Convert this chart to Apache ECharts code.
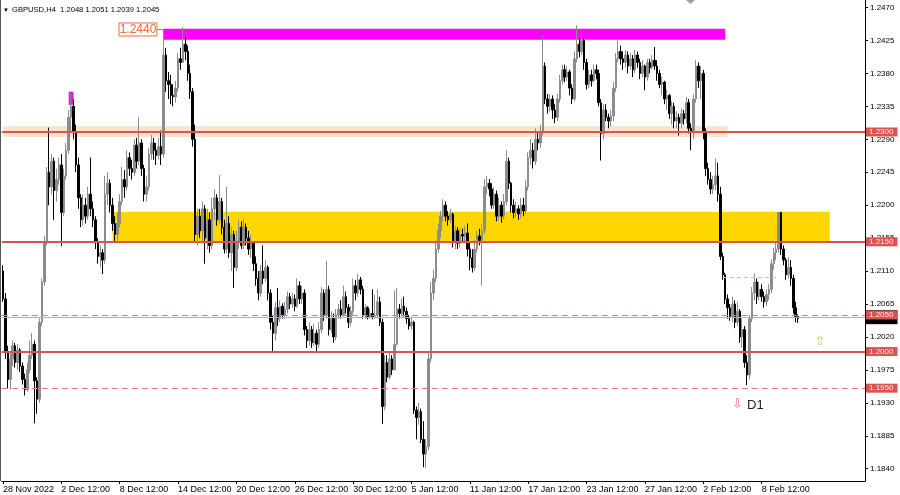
<!DOCTYPE html>
<html><head><meta charset="utf-8">
<script src="https://cdn.jsdelivr.net/npm/echarts@6/dist/echarts.min.js"></script>
<style>html,body{margin:0;padding:0;background:#fff}#c{width:900px;height:495px}</style>
</head><body><div id="c"></div>
<script>
// ---- DATA ----
const firstOpen = 1.2110;
const closes = [
1.2072,1.2000,1.1962,1.1990,1.2008,1.1985,1.2002,1.1980,1.1962,1.1948,
1.1975,1.1995,1.2010,1.1960,1.1935,1.2040,1.2095,1.2150,1.2245,1.2225,
1.2260,1.2220,1.2235,1.2255,1.2190,1.2240,1.2275,1.2320,1.2335,1.2300,
1.2255,1.2210,1.2180,1.2200,1.2185,1.2215,1.2195,1.2180,1.2150,1.2130,
1.2135,1.2125,1.2215,1.2230,1.2200,1.2175,1.2160,1.2175,1.2205,1.2235,
1.2225,1.2265,1.2250,1.2245,1.2282,1.2260,1.2285,1.2250,1.2215,1.2225,
1.2270,1.2285,1.2275,1.2268,1.2280,1.2270,1.2405,1.2370,1.2365,1.2350,
1.2348,1.2360,1.2400,1.2395,1.2420,1.2410,1.2380,1.2355,1.2290,1.2160,
1.2185,1.2165,1.2195,1.2155,1.2180,1.2145,1.2195,1.2210,1.2180,1.2205,
1.2170,1.2140,1.2175,1.2135,1.2160,1.2115,1.2150,1.2170,1.2145,1.2170,
1.2155,1.2140,1.2150,1.2120,1.2100,1.2080,1.2110,1.2100,1.2115,1.2080,
1.2040,1.2025,1.2060,1.2045,1.2062,1.2050,1.2058,1.2075,1.2065,1.2072,
1.2062,1.2090,1.2072,1.2080,1.2030,1.2015,1.2030,1.2012,1.2025,1.2010,
1.2030,1.2080,1.2050,1.2085,1.2030,1.2045,1.2020,1.2050,1.2058,1.2050,
1.2075,1.2060,1.2040,1.2055,1.2090,1.2080,1.2098,1.2085,1.2050,1.2060,
1.2048,1.2052,1.2048,1.2050,1.2068,1.2040,1.1925,1.1985,1.1965,1.1990,
1.1975,1.2010,1.2058,1.2052,1.2062,1.2055,1.2045,1.2035,1.2040,1.1920,
1.1910,1.1918,1.1880,1.1860,1.1870,1.1990,1.2080,1.2100,1.2140,1.2165,
1.2185,1.2200,1.2185,1.2180,1.2188,1.2150,1.2165,1.2148,1.2160,1.2158,
1.2162,1.2140,1.2128,1.2115,1.2140,1.2158,1.2152,1.2165,1.2225,1.2230,
1.2222,1.2200,1.2215,1.2185,1.2200,1.2185,1.2205,1.2260,1.2230,1.2200,
1.2190,1.2195,1.2188,1.2200,1.2192,1.2225,1.2265,1.2275,1.2260,1.2290,
1.2285,1.2300,1.2390,1.2345,1.2335,1.2345,1.2330,1.2320,1.2345,1.2370,
1.2385,1.2375,1.2382,1.2360,1.2345,1.2400,1.2420,1.2410,1.2425,1.2395,
1.2365,1.2378,1.2370,1.2385,1.2380,1.2340,1.2298,1.2330,1.2320,1.2315,
1.2322,1.2360,1.2400,1.2410,1.2400,1.2395,1.2405,1.2390,1.2400,1.2385,
1.2405,1.2395,1.2380,1.2390,1.2375,1.2395,1.2388,1.2398,1.2390,1.2380,
1.2365,1.2368,1.2345,1.2350,1.2325,1.2335,1.2315,1.2320,1.2312,1.2325,
1.2318,1.2340,1.2305,1.2300,1.2345,1.2390,1.2370,1.2380,1.2300,1.2250,
1.2235,1.2222,1.2228,1.2240,1.2215,1.2130,1.2105,1.2072,1.2060,1.2048,
1.2065,1.2040,1.2055,1.2020,1.2030,1.1985,1.1968,1.2045,1.2080,1.2095,
1.2075,1.2085,1.2075,1.2068,1.2078,1.2085,1.2120,1.2135,1.2140,1.2190,
1.2140,1.2125,1.2105,1.2115,1.2100,1.2060,1.2048,1.2045];
const highs = [
1.2118,1.2080,1.2008,1.1998,1.2015,1.2012,1.2010,1.2005,1.1985,1.1970,
1.1985,1.2015,1.2025,1.2015,1.1965,1.2045,1.2100,1.2158,1.2252,1.2306,
1.2270,1.2265,1.2250,1.2265,1.2270,1.2250,1.2285,1.2330,1.2353,1.2345,
1.2310,1.2265,1.2215,1.2215,1.2210,1.2225,1.2265,1.2205,1.2185,1.2155,
1.2145,1.2140,1.2240,1.2245,1.2235,1.2210,1.2185,1.2190,1.2215,1.2252,
1.2248,1.2275,1.2272,1.2262,1.2290,1.2292,1.2320,1.2290,1.2255,1.2240,
1.2278,1.2296,1.2292,1.2285,1.2292,1.2302,1.2440,1.2415,1.2382,1.2378,
1.2365,1.2370,1.2408,1.2415,1.2443,1.2430,1.2418,1.2392,1.2360,1.2310,
1.2195,1.2195,1.2205,1.2200,1.2195,1.2190,1.2210,1.2222,1.2215,1.2241,
1.2210,1.2180,1.2225,1.2185,1.2170,1.2165,1.2165,1.2180,1.2178,1.2182,
1.2175,1.2165,1.2160,1.2150,1.2130,1.2110,1.2118,1.2145,1.2125,1.2118,
1.2085,1.2050,1.2068,1.2087,1.2070,1.2066,1.2068,1.2082,1.2080,1.2080,
1.2078,1.2100,1.2096,1.2090,1.2085,1.2035,1.2040,1.2035,1.2038,1.2030,
1.2040,1.2088,1.2085,1.2124,1.2090,1.2055,1.2052,1.2058,1.2065,1.2070,
1.2090,1.2082,1.2065,1.2062,1.2100,1.2098,1.2106,1.2102,1.2090,1.2065,
1.2062,1.2058,1.2085,1.2078,1.2085,1.2075,1.2045,1.1995,1.1995,1.1998,
1.1995,1.2083,1.2087,1.2065,1.2072,1.2075,1.2060,1.2050,1.2048,1.2042,
1.1925,1.1930,1.1922,1.1905,1.1880,1.2000,1.2095,1.2112,1.2152,1.2175,
1.2192,1.2208,1.2205,1.2192,1.2195,1.2190,1.2172,1.2170,1.2168,1.2168,
1.2172,1.2175,1.2150,1.2140,1.2152,1.2165,1.2168,1.2175,1.2235,1.2240,
1.2236,1.2230,1.2225,1.2220,1.2210,1.2205,1.2215,1.2275,1.2265,1.2232,
1.2208,1.2205,1.2200,1.2210,1.2210,1.2235,1.2272,1.2290,1.2285,1.2305,
1.2300,1.2310,1.2432,1.2395,1.2352,1.2352,1.2350,1.2338,1.2352,1.2378,
1.2392,1.2392,1.2390,1.2385,1.2365,1.2410,1.2446,1.2428,1.2432,1.2428,
1.2400,1.2385,1.2385,1.2392,1.2392,1.2385,1.2345,1.2338,1.2338,1.2325,
1.2330,1.2368,1.2408,1.2425,1.2418,1.2410,1.2412,1.2410,1.2408,1.2405,
1.2412,1.2410,1.2400,1.2398,1.2392,1.2400,1.2400,1.2405,1.2416,1.2398,
1.2385,1.2375,1.2370,1.2358,1.2352,1.2342,1.2340,1.2328,1.2325,1.2332,
1.2330,1.2348,1.2345,1.2312,1.2352,1.2398,1.2395,1.2390,1.2385,1.2305,
1.2258,1.2245,1.2240,1.2264,1.2258,1.2225,1.2135,1.2108,1.2078,1.2065,
1.2075,1.2070,1.2068,1.2058,1.2045,1.2035,1.1995,1.2050,1.2088,1.2107,
1.2100,1.2095,1.2092,1.2082,1.2085,1.2092,1.2126,1.2142,1.2150,1.2191,
1.2191,1.2145,1.2128,1.2129,1.2125,1.2105,1.2068,1.2051];
const lows = [
1.2068,1.1990,1.1950,1.1948,1.1980,1.1978,1.1975,1.1972,1.1955,1.1940,
1.1945,1.1970,1.1990,1.1902,1.1915,1.1930,1.2035,1.2090,1.2145,1.2200,
1.2215,1.2180,1.2205,1.2228,1.2144,1.2185,1.2235,1.2270,1.2300,1.2290,
1.2245,1.2195,1.2170,1.2172,1.2175,1.2180,1.2185,1.2170,1.2140,1.2120,
1.2115,1.2106,1.2120,1.2200,1.2190,1.2165,1.2150,1.2152,1.2170,1.2200,
1.2210,1.2220,1.2240,1.2235,1.2240,1.2250,1.2255,1.2240,1.2205,1.2205,
1.2220,1.2262,1.2262,1.2255,1.2262,1.2255,1.2265,1.2355,1.2345,1.2338,
1.2335,1.2340,1.2355,1.2385,1.2395,1.2398,1.2370,1.2345,1.2280,1.2150,
1.2145,1.2155,1.2150,1.2120,1.2140,1.2135,1.2140,1.2180,1.2172,1.2175,
1.2160,1.2134,1.2135,1.2128,1.2110,1.2087,1.2110,1.2140,1.2140,1.2140,
1.2145,1.2132,1.2128,1.2110,1.2090,1.2070,1.2075,1.2092,1.2095,1.2070,
1.2030,1.2000,1.2015,1.2035,1.2040,1.2045,1.2045,1.2052,1.2058,1.2060,
1.2055,1.2060,1.2065,1.2065,1.2022,1.2005,1.2008,1.2005,1.2008,1.2000,
1.2005,1.2025,1.2042,1.2045,1.2022,1.2025,1.2012,1.2015,1.2045,1.2045,
1.2048,1.2052,1.2032,1.2035,1.2050,1.2070,1.2075,1.2078,1.2045,1.2045,
1.2044,1.2045,1.2044,1.2045,1.2045,1.2035,1.1901,1.1920,1.1958,1.1962,
1.1968,1.1975,1.2008,1.2045,1.2048,1.2048,1.2038,1.2030,1.2030,1.1915,
1.1880,1.1900,1.1875,1.1842,1.1841,1.1865,1.1985,1.2070,1.2095,1.2135,
1.2155,1.2178,1.2178,1.2172,1.2175,1.2142,1.2140,1.2140,1.2142,1.2150,
1.2150,1.2130,1.2111,1.2108,1.2110,1.2135,1.2145,1.2090,1.2160,1.2215,
1.2212,1.2195,1.2195,1.2178,1.2178,1.2176,1.2180,1.2200,1.2222,1.2190,
1.2182,1.2183,1.2180,1.2182,1.2185,1.2188,1.2220,1.2255,1.2250,1.2255,
1.2275,1.2278,1.2295,1.2338,1.2325,1.2328,1.2318,1.2312,1.2315,1.2340,
1.2365,1.2368,1.2370,1.2350,1.2338,1.2342,1.2395,1.2402,1.2405,1.2385,
1.2358,1.2360,1.2362,1.2368,1.2372,1.2335,1.2261,1.2290,1.2315,1.2305,
1.2308,1.2315,1.2355,1.2395,1.2392,1.2385,1.2388,1.2380,1.2385,1.2375,
1.2380,1.2388,1.2372,1.2375,1.2357,1.2370,1.2380,1.2385,1.2385,1.2370,
1.2360,1.2350,1.2338,1.2330,1.2318,1.2310,1.2305,1.2305,1.2295,1.2305,
1.2310,1.2312,1.2298,1.2275,1.2290,1.2340,1.2360,1.2345,1.2290,1.2240,
1.2228,1.2215,1.2215,1.2220,1.2205,1.2125,1.2098,1.2065,1.2045,1.2042,
1.2040,1.2032,1.2035,1.2012,1.2005,1.1978,1.1954,1.1962,1.2040,1.2070,
1.2065,1.2070,1.2068,1.2060,1.2062,1.2070,1.2080,1.2112,1.2125,1.2135,
1.2132,1.2118,1.2098,1.2100,1.2090,1.2052,1.2040,1.2039];

const tickIndex = [0,24,48,72,96,120,144,168,192,216,240,264,288,312];
const tickLabels = ['28 Nov 2022','2 Dec 12:00','8 Dec 12:00','14 Dec 12:00','20 Dec 12:00','26 Dec 12:00','30 Dec 12:00','5 Jan 12:00','11 Jan 12:00','17 Jan 12:00','23 Jan 12:00','27 Jan 12:00','2 Feb 12:00','8 Feb 12:00'];
const yTicks = [1.1840,1.1885,1.1930,1.1975,1.2020,1.2065,1.2110,1.2155,1.2200,1.2245,1.2290,1.2335,1.2380,1.2425,1.2470];
const solidLevels = [1.2300,1.2150,1.2000];
const dashedLevels = [1.2050,1.1950];
const bidLine = 1.2047;
const lastPrice = 1.2045;
const header = 'GBPUSD,H4  1.2048 1.2051 1.2039 1.2045';
const yellowZone = {from:45, to:340, low:1.2150, high:1.2191};
const magentaZone = {from:66, to:297, low:1.2426, high:1.2441};
const smallMagenta = {from:27, to:29, low:1.2337, high:1.2355};
const peachBand = {from:0, to:298, low:1.2293, high:1.2308};
const cyanLine = {from:296, to:318, price:1.2101};
const highLabel = {idx:66, price:1.2440, text:'1.2440'};
const upArrow = {idx:335.6, price:1.2013};
const downArrow = {idx:301.5, price:1.1927};
const d1Label = {idx:306, price:1.1926, text:'D1'};

// ---- BUILD ----
const N = 355;
const cats = Array.from({length:N}, (_, i) => String(i));
const labelMap = {};
tickIndex.forEach((t, k) => labelMap[t] = tickLabels[k]);
const candle = closes.map((c, i) => {
  const o = i === 0 ? firstOpen : closes[i - 1];
  return [o, c, Math.min(lows[i], o, c), Math.max(highs[i], o, c)];
});
const FONT = 'Liberation Sans, Arial, sans-serif';
const RED = '#d9534f';

function zone(z, color) {
  return [{xAxis: z.from, yAxis: z.high, itemStyle: {color: color}}, {xAxis: z.to, yAxis: z.low}];
}
function redLabel(txt) {
  return {show: true, position: 'end', distance: 1, formatter: txt, backgroundColor: RED,
    color: '#ffecec', fontSize: 8, fontFamily: FONT, padding: [1, 4, 0, 3], lineHeight: 8};
}

const chart = echarts.init(document.getElementById('c'), null, {renderer: 'canvas'});
chart.setOption({
  animation: false,
  textStyle: {fontFamily: FONT},
  grid: {left: 0, right: 35, top: 0, bottom: 14},
  xAxis: {
    type: 'category', data: cats, boundaryGap: true,
    axisLine: {show: true, lineStyle: {color: '#000', width: 1}},
    axisTick: {show: true, alignWithLabel: true, length: 3, interval: (i) => labelMap[i] !== undefined, lineStyle: {color: '#000'}},
    axisLabel: {interval: (i) => labelMap[i] !== undefined, formatter: (v) => labelMap[+v] || '',
      align: 'left', margin: 4, fontSize: 9, color: '#000', fontFamily: FONT},
    splitLine: {show: false}
  },
  yAxis: {
    type: 'value', position: 'right', min: 1.18232, max: 1.24803, scale: true,
    axisLine: {show: true, lineStyle: {color: '#000', width: 1}},
    axisTick: {show: true, customValues: yTicks, length: 3, lineStyle: {color: '#000'}},
    axisLabel: {customValues: yTicks, formatter: (v) => v.toFixed(4), fontSize: 8, margin: 5, color: '#000', fontFamily: FONT},
    splitLine: {show: false}
  },
  series: [
    {
      type: 'line', data: [], z: 1, silent: true,
      markArea: {silent: true, precision: 6, data: [
        zone(peachBand, '#f9e3cd'),
        zone(yellowZone, '#ffd700'),
        zone(magentaZone, '#ff00ff'),
        zone(smallMagenta, '#ff00ff')
      ]}
    },
    {
      type: 'candlestick', data: candle, z: 2, barWidth: 2,
      itemStyle: {color: '#8c8c8c', color0: '#000', borderColor: '#8c8c8c', borderColor0: '#000', borderWidth: 1}
    },
    {
      type: 'line', data: [], z: 3, silent: true,
      markLine: {silent: true, symbol: 'none', precision: 6, animation: false, data: [
        {yAxis: bidLine, lineStyle: {color: '#c9a8a8', width: 1, type: 'solid'},
          label: {show: true, position: 'end', distance: 1, formatter: lastPrice.toFixed(4), backgroundColor: '#000', color: '#fff', fontSize: 8, fontFamily: FONT, padding: [3, 4, 3, 3], lineHeight: 8}},
        ...dashedLevels.map(v => ({yAxis: v, lineStyle: {color: '#e07a7a', width: 1, type: [6, 4]}, label: redLabel(v.toFixed(4))})),
        ...solidLevels.map(v => ({yAxis: v, lineStyle: {color: RED, width: 2, type: 'solid'}, label: redLabel(v.toFixed(4))})),
        [{coord: [cyanLine.from, cyanLine.price], lineStyle: {color: '#8fd3e6', width: 1, type: [4, 3]}, label: {show: false}},
         {coord: [cyanLine.to, cyanLine.price]}]
      ]}
    }
  ]
});

const px = (idx, p) => chart.convertToPixel({seriesIndex: 1}, [idx, p]);
const hl = px(highLabel.idx, highLabel.price);
const ua = px(upArrow.idx, upArrow.price);
const da = px(downArrow.idx, downArrow.price);
const dl = px(d1Label.idx, d1Label.price);
chart.setOption({graphic: [
  {type: 'line', shape: {x1: 0.5, y1: 0, x2: 0.5, y2: 481}, style: {stroke: '#555', lineWidth: 1}, z: 10},
  {type: 'polygon', shape: {points: [[686, 0], [695, 0], [690.5, 4]]}, style: {fill: '#a0a0a0'}, z: 10},
  {type: 'text', x: 3, y: 10, style: {text: '\u25BC', fontSize: 6, fill: '#000', verticalAlign: 'middle'}, z: 10},
  {type: 'text', x: 12, y: 10, style: {text: header, fontSize: 7.6, fontFamily: FONT, fill: '#000', verticalAlign: 'middle'}, z: 10},
  {type: 'line', shape: {x1: hl[0] - 7, y1: hl[1], x2: hl[0], y2: hl[1]}, style: {stroke: '#e8703c', lineWidth: 1}, z: 10},
  {type: 'rect', shape: {x: hl[0] - 44.5, y: hl[1] - 6.5, width: 38, height: 13}, style: {fill: '#fff', stroke: '#e8703c', lineWidth: 1}, z: 10},
  {type: 'text', x: hl[0] - 25.5, y: hl[1] + 0.5, style: {text: highLabel.text, fontSize: 12, fontFamily: FONT, fill: '#ec6a36', align: 'center', verticalAlign: 'middle'}, z: 11},
  {type: 'text', x: ua[0], y: ua[1], style: {text: '\u21E7', fontSize: 13, fontFamily: 'DejaVu Sans', fill: '#b9d26a', align: 'center', verticalAlign: 'middle'}, z: 10},
  {type: 'text', x: da[0], y: da[1], style: {text: '\u21E9', fontSize: 13, fontFamily: 'DejaVu Sans', fill: '#ee7b74', align: 'center', verticalAlign: 'middle'}, z: 10},
  {type: 'text', x: dl[0], y: dl[1], style: {text: d1Label.text, fontSize: 13, fontFamily: FONT, fill: '#222', align: 'left', verticalAlign: 'middle'}, z: 10}
]});
</script>
</body></html>
